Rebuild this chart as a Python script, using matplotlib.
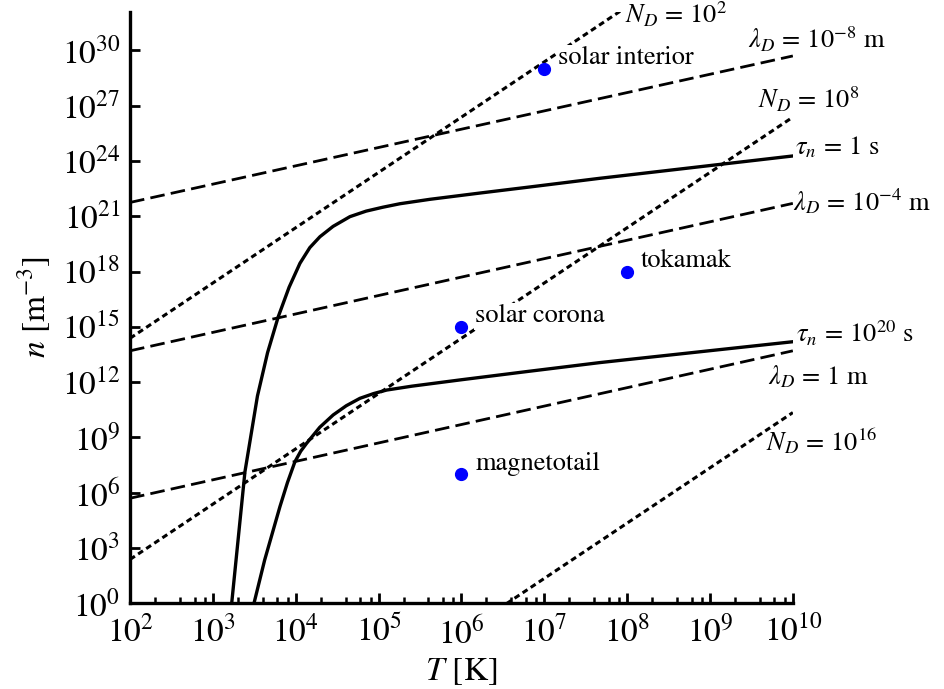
import numpy as np
import matplotlib
matplotlib.use('Agg')
import matplotlib.pyplot as plt
from matplotlib.ticker import FixedLocator, LogFormatterSciNotation, NullLocator

plt.rcParams['font.family'] = 'STIXGeneral'
plt.rcParams['mathtext.fontset'] = 'stix'
plt.rcParams['lines.scale_dashes'] = False

# straight lines, log10 n at T = 1e2 and T = 1e10
line_logT = [2, 10]
debye_logn = [[21.75, 29.7], [13.7, 21.7], [5.7, 13.7]]
nd_logn = [[14.38, 38.38], [2.38, 26.38], [-13.65, 10.35]]

# tau_n curves (log10 T, log10 n)
tau1_logT = [3.227, 3.387, 3.538, 3.66, 3.789, 3.92, 4.051, 4.17, 4.292, 4.45,
             4.654, 4.85, 5.05, 5.257, 5.619, 6.222, 6.825, 7.669, 9.994]
tau1_logn = [0.0, 7.14, 11.25, 13.6, 15.55, 17.15, 18.45, 19.3, 19.89, 20.45,
             20.98, 21.28, 21.49, 21.68, 21.92, 22.26, 22.59, 23.06, 24.27]
tau20_logT = [3.496, 3.625, 3.809, 3.90, 3.990, 4.06, 4.131, 4.29, 4.452, 4.61,
              4.774, 4.94, 5.097, 5.40, 6.0, 6.8, 7.669, 9.994]
tau20_logn = [0.0, 2.35, 5.24, 6.55, 7.68, 8.25, 8.68, 9.55, 10.22, 10.72,
              11.12, 11.38, 11.57, 11.78, 12.13, 12.58, 13.06, 14.19]

# example plasmas
plasma_names = ['solar interior', 'tokamak', 'solar corona', 'magnetotail']
plasma_T = [1e7, 1e8, 1e6, 1e6]
plasma_n = [1e29, 1e18, 1e15, 1e7]


def main():
    fig = plt.figure(figsize=(9.45, 6.89), dpi=100)
    ax = fig.add_axes([0.1376, 0.1244, 0.839 - 0.1376, 0.983 - 0.1244])

    T = 10.0 ** np.array(line_logT)
    for ln in debye_logn:
        l, = ax.plot(T, 10.0 ** np.array(ln), '-', color='black', lw=2.0)
        l.set_dashes((10.5, 4.5))
    for ln in nd_logn:
        l, = ax.plot(T, 10.0 ** np.array(ln), '-', color='black', lw=2.2)
        l.set_dashes((4.2, 2.8))

    ax.plot(10.0 ** np.array(tau1_logT), 10.0 ** np.array(tau1_logn), '-k', lw=2.4)
    ax.plot(10.0 ** np.array(tau20_logT), 10.0 ** np.array(tau20_logn), '-k', lw=2.4)

    ax.plot(plasma_T, plasma_n, 'o', color='blue', ms=8.5, zorder=5)
    for name, t, n in zip(plasma_names, plasma_T, plasma_n):
        ax.annotate(name, (t, n), xytext=(10, 7.5), textcoords='offset points',
                    fontsize=19, va='center', ha='left', zorder=4,
                    bbox=dict(facecolor='white', edgecolor='none', pad=1.0))

    # line labels
    labels = [
        (r'$N_D\,=\,10^2$', 7.97, 31.92),
        (r'$\lambda_D\,=\,10^{-8}$ m', 9.46, 30.56),
        (r'$N_D\,=\,10^8$', 9.58, 27.32),
        (r'$\tau_n\,=\,1$ s', 10.02, 24.7),
        (r'$\lambda_D\,=\,10^{-4}$ m', 10.0, 21.79),
        (r'$\tau_n\,=\,10^{20}$ s', 10.04, 14.65),
        (r'$\lambda_D\,=\,1$ m', 9.70, 12.3),
        (r'$N_D\,=\,10^{16}$', 9.68, 8.77),
    ]
    for txt, lt, lnn in labels:
        ax.text(10 ** lt, 10 ** lnn, txt, fontsize=19, ha='left', va='center',
                clip_on=False)

    ax.set_xscale('log')
    ax.set_yscale('log')
    ax.set_xlim(1e2, 1e10)
    ax.set_ylim(1, 10 ** 32.1)

    ax.xaxis.set_major_locator(FixedLocator([10.0 ** k for k in range(2, 11)]))
    ax.xaxis.set_minor_locator(FixedLocator([m * 10.0 ** k for k in range(2, 10)
                                             for m in (2, 4, 6, 8)]))
    ax.yaxis.set_major_locator(FixedLocator([10.0 ** k for k in range(0, 31, 3)]))
    ax.yaxis.set_minor_locator(NullLocator())
    ax.xaxis.set_major_formatter(LogFormatterSciNotation())
    ax.yaxis.set_major_formatter(LogFormatterSciNotation())

    for s in ['top', 'right']:
        ax.spines[s].set_visible(False)
    for s in ['left', 'bottom']:
        ax.spines[s].set_linewidth(2.4)

    ax.tick_params(which='major', direction='in', length=7.5, width=2.0,
                   labelsize=24, pad=7)
    ax.tick_params(which='minor', direction='in', length=4.5, width=1.8)
    ax.tick_params(axis='x', which='major', pad=9)

    ax.set_xlabel(r'$T$ [K]', fontsize=24, labelpad=4)
    ax.set_ylabel(r'$n$ [m$^{-3}$]', fontsize=24, labelpad=6)

    fig.savefig('out.png', dpi=100)


if __name__ == '__main__':
    main()
